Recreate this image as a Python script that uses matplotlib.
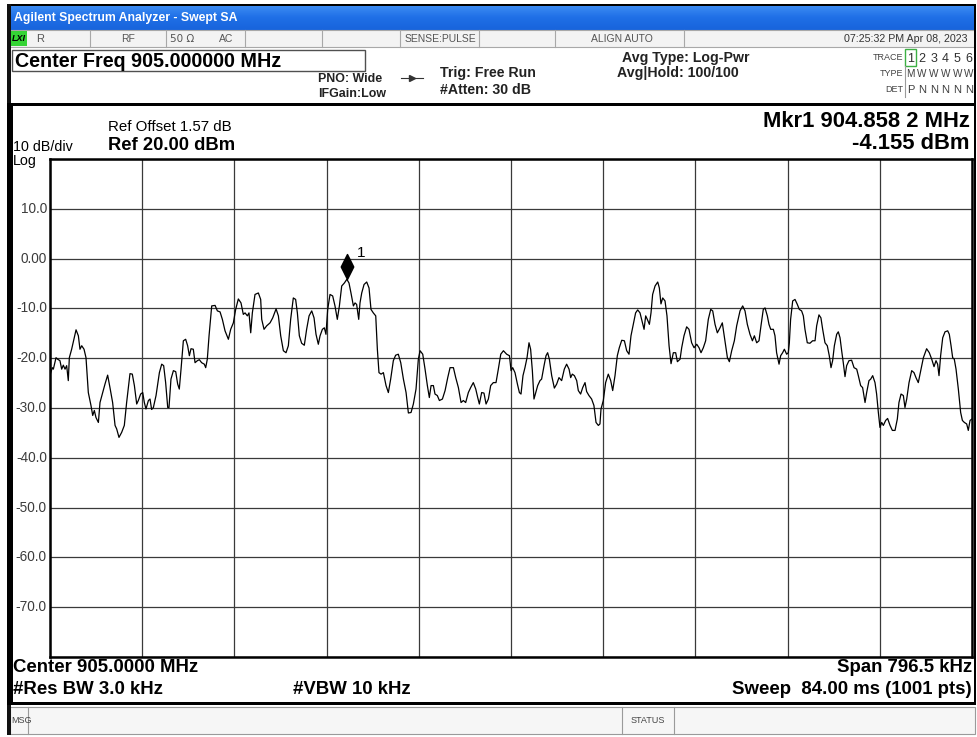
import numpy as np
import matplotlib
matplotlib.use("Agg")
import matplotlib.pyplot as plt
from matplotlib.patches import Rectangle
from matplotlib.path import Path
from matplotlib.markers import MarkerStyle
from matplotlib.colors import LinearSegmentedColormap
from matplotlib import font_manager

# ---------------- data ----------------
center_mhz = 905.0
span_khz = 796.5
ref_level_dbm = 20.0
db_per_div = 10.0
n_divs = 10
y_tick_values = [10, 0, -10, -20, -30, -40, -50, -60, -70]
y_tick_labels = ["10.0", "0.00", "-10.0", "-20.0", "-30.0", "-40.0", "-50.0", "-60.0", "-70.0"]

marker_mhz = 904.8582
marker_dbm = -4.155

# trace: frequency (kHz from start of span) and amplitude (dBm)
trace_khz = [
    0.0, 2.0, 2.9, 5.2, 6.6, 8.6, 10.1, 11.5, 13.0, 14.4,
    15.8, 16.7, 18.7, 22.5, 24.5, 25.9, 27.4, 29.4, 31.1, 33.1,
    35.4, 36.9, 38.3, 39.7, 41.8, 43.2, 45.2, 47.5, 49.8, 51.8,
    54.1, 56.2, 57.6, 59.6, 61.9, 64.2, 66.2, 69.1, 71.1, 72.9,
    74.9, 76.3, 78.3, 80.1, 81.5, 82.9, 85.0, 86.4, 87.8, 89.3,
    91.6, 94.5, 96.5, 98.2, 99.9, 101.7, 102.8, 104.5, 106.6, 108.6,
    110.3, 111.7, 113.2, 115.2, 117.2, 118.9, 120.4, 121.8, 123.8, 125.3,
    127.3, 129.0, 131.0, 133.3, 134.5, 135.9, 137.4, 139.7, 142.6, 144.6,
    146.9, 148.9, 151.2, 154.1, 156.1, 158.4, 160.4, 162.7, 165.0, 167.0,
    168.5, 170.5, 171.9, 173.4, 174.8, 177.1, 180.0, 182.0, 182.9, 184.9,
    187.2, 190.1, 192.4, 195.3, 197.3, 199.3,
    201.6, 203.9, 205.9, 207.9, 210.2, 212.2, 213.7, 215.4, 217.4, 219.7,
    221.7, 223.8, 226.1, 228.1, 229.8, 231.8, 233.3, 235.3, 237.0, 238.4,
    239.9, 241.9, 244.2, 246.2, 248.2, 250.0, 252.0, 254.3, 256.45, 258.3,
    260.0, 262.1, 263.5, 264.9, 266.7, 267.8, 269.3, 271.3, 273.6, 275.6,
    277.3, 279.3, 281.4, 282.8, 284.2, 286.0, 288.0, 290.3, 292.3, 294.3,
    296.6, 298.6, 300.9, 303.0, 305.3, 307.6, 309.6, 311.9, 313.9, 316.2,
    318.2, 319.7, 322.0, 324.0, 326.0, 327.7, 329.2, 331.2, 332.6, 334.6,
    336.4, 339.0, 341.3, 343.6, 345.6, 348.5, 350.5, 352.8, 355.1, 357.1,
    359.1, 361.4, 363.4, 365.7, 367.8, 369.5, 370.9, 372.9, 374.9, 376.7,
    378.7, 380.7, 383.0, 385.3, 387.3, 389.4, 391.7, 394.5, 396.9, 398.3,
    399.7, 401.7, 403.8, 405.5,
    406.9, 408.6, 410.3, 412.1, 413.8, 415.2, 416.7, 418.1, 419.6, 421.3,
    423.3, 424.7, 426.8, 428.5, 429.9, 431.4, 433.4, 435.7, 437.7, 439.7,
    442.0, 444.3, 446.3, 448.4, 449.8, 451.2, 453.0, 455.0, 456.4, 458.4,
    460.2, 462.2, 463.6, 465.6, 467.9, 469.9, 471.7, 473.7, 475.1, 476.0,
    478.0, 480.0, 482.3, 484.4, 486.1, 488.1, 490.1, 491.8, 493.9, 496.2,
    498.2, 500.2, 501.9, 503.9, 505.9, 507.7, 509.7, 511.1, 513.2, 514.6,
    516.0, 517.8, 519.2, 520.6, 522.7, 525.0, 526.4, 527.8, 529.3, 531.3,
    533.0, 534.8, 536.5, 538.5, 540.5, 542.0, 544.3, 545.7, 547.7, 550.0,
    552.0, 554.3, 556.4, 558.7, 560.7, 562.4, 564.4, 566.4, 568.7, 570.8,
    572.5, 574.5, 576.5, 578.8, 580.8, 583.1, 585.2, 586.9, 588.9, 591.2,
    593.2, 596.1, 598.4, 600.4, 602.4, 604.7, 606.8, 608.5,
    610.5, 612.5, 614.2, 616.2, 617.7, 619.7, 621.1, 622.6, 624.9, 626.3,
    627.7, 629.8, 631.2, 632.9, 634.4, 636.4, 637.8, 638.7, 639.8, 641.6,
    643.6, 645.6, 647.3, 649.3, 650.8, 652.2, 654.2, 656.5, 658.8, 660.9,
    662.3, 664.3, 666.0, 667.5, 669.5, 671.5, 673.2, 674.7, 676.1, 677.6,
    679.6, 681.0, 682.5, 683.9, 685.3, 686.8, 688.2, 690.2, 692.5, 694.6,
    696.9, 698.3, 700.3, 702.0, 704.1, 705.5, 707.5, 709.0, 710.7, 712.7,
    714.1, 715.6, 717.0, 718.5, 719.9, 721.9, 723.6, 725.7, 727.7, 730.0,
    732.0, 733.4, 735.2, 737.2, 738.6, 740.1, 742.1, 744.4, 746.4, 748.1,
    750.1, 752.2, 754.5, 757.3, 759.6, 761.7, 763.7, 765.4, 766.8, 768.0,
    769.4, 771.2, 773.2, 775.5, 776.9, 778.4, 779.8, 781.2, 782.7, 784.7,
    786.7, 788.2, 789.9, 791.9, 793.3, 794.8, 796.5,
]
trace_dbm = [
    -23.4, -21.9, -22.2, -19.9, -20.2, -20.5, -22.2, -21.4, -22.2, -21.5,
    -24.5, -19.9, -18.2, -14.3, -15.5, -18.2, -17.5, -18.2, -19.9, -26.9,
    -29.5, -31.5, -30.5, -31.9, -32.9, -28.9, -27.2, -25.2, -23.4, -25.9,
    -28.9, -33.5, -34.2, -35.9, -34.9, -33.5, -28.9, -23.1, -23.2, -25.5,
    -29.2, -28.5, -27.2, -26.9, -28.9, -30.2, -28.5, -28.2, -30.3, -29.9,
    -27.5, -22.9, -21.2, -21.5, -24.9, -29.9, -29.9, -24.2, -22.5, -22.7,
    -25.2, -26.2, -22.2, -16.5, -16.2, -17.5, -19.5, -18.1, -18.2, -20.9,
    -20.5, -20.3, -20.9, -21.2, -21.9, -20.2, -15.5, -9.5, -9.4, -10.5,
    -10.7, -12.2, -14.5, -16.2, -14.2, -12.9, -10.2, -8.1, -8.9, -11.2,
    -10.9, -11.5, -10.9, -14.9, -10.9, -7.2, -6.9, -8.2, -12.2, -14.2,
    -13.5, -12.9, -11.9, -10.1, -11.5, -15.5,
    -18.5, -18.9, -17.5, -12.2, -7.9, -8.2, -10.9, -15.5, -17.0, -17.4,
    -14.2, -11.5, -10.5, -11.9, -15.2, -17.2, -15.5, -14.2, -13.9, -15.2,
    -10.2, -7.2, -7.5, -9.5, -12.2, -9.5, -5.5, -4.9, -4.155, -4.9,
    -6.9, -9.5, -8.9, -9.2, -12.2, -8.9, -6.9, -5.2, -4.7, -5.9,
    -10.2, -10.9, -11.5, -18.2, -22.9, -23.2, -22.9, -25.5, -26.9, -24.2,
    -20.5, -19.4, -19.2, -20.9, -24.2, -26.9, -31.0, -30.9, -29.2, -26.2,
    -20.2, -18.5, -19.2, -22.2, -25.5, -27.9, -25.5, -25.5, -27.2, -27.5,
    -28.5, -28.2, -26.5, -23.9, -21.9, -21.9, -23.9, -25.9, -28.9, -28.5,
    -28.9, -26.9, -25.9, -24.9, -26.2, -27.9, -29.2, -26.9, -27.0, -29.2,
    -28.2, -25.5, -24.9, -24.9, -22.2, -19.2, -18.5, -19.2, -19.5, -22.5,
    -21.9, -22.9, -25.2, -26.9,
    -27.2, -23.5, -21.9, -19.9, -16.9, -18.2, -22.5, -28.2, -26.9, -25.5,
    -24.5, -24.2, -21.5, -19.5, -18.9, -20.2, -23.5, -26.0, -25.2, -23.9,
    -24.5, -22.2, -21.2, -22.2, -23.9, -23.2, -23.5, -24.5, -26.5, -27.2,
    -25.9, -24.9, -26.7, -27.5, -28.2, -29.5, -32.9, -33.5, -33.2, -30.2,
    -28.5, -24.9, -23.2, -24.5, -26.5, -23.5, -19.5, -17.9, -16.4, -16.5,
    -18.5, -19.2, -15.5, -13.2, -10.9, -10.3, -10.9, -12.2, -14.2, -11.5,
    -12.2, -13.2, -10.9, -7.2, -5.5, -4.7, -5.9, -9.1, -7.9, -8.5,
    -11.5, -17.5, -21.1, -18.9, -18.9, -20.7, -20.2, -17.9, -15.5, -13.7,
    -14.2, -16.9, -17.9, -17.2, -17.9, -18.9, -17.9, -16.5, -12.2, -10.2,
    -10.5, -13.2, -14.9, -13.9, -12.9, -16.5, -19.9, -20.7, -18.5, -16.5,
    -13.5, -10.5, -9.5, -10.5, -13.2, -15.2, -16.5, -15.5,
    -16.9, -16.5, -13.5, -10.2, -9.9, -11.5, -13.2, -14.2, -14.2, -15.5,
    -18.9, -21.2, -19.5, -18.9, -18.2, -19.2, -18.9, -16.9, -12.2, -8.5,
    -8.2, -9.2, -10.2, -10.5, -11.5, -14.2, -16.9, -17.0, -16.5, -16.5,
    -13.5, -11.3, -11.9, -14.2, -16.9, -17.5, -19.5, -21.9, -20.5, -17.5,
    -15.2, -14.7, -15.9, -18.5, -20.9, -23.7, -21.5, -20.5, -20.4, -21.9,
    -22.2, -23.5, -25.5, -25.9, -28.9, -26.9, -24.5, -24.2, -23.5, -24.9,
    -27.2, -30.9, -33.9, -32.9, -33.5, -32.5, -32.1, -33.5, -34.5, -34.5,
    -32.2, -28.9, -27.2, -27.5, -29.9, -28.2, -24.9, -22.5, -22.9, -23.9,
    -24.9, -22.5, -19.9, -18.1, -18.9, -20.2, -21.7, -20.5, -21.2, -23.5,
    -19.5, -15.9, -14.7, -14.5, -15.2, -17.5, -19.9, -20.2, -22.2, -26.2,
    -30.9, -32.5, -32.9, -33.2, -34.5, -32.5, -32.2,
]

# ---------------- fonts ----------------
avail = {f.name for f in font_manager.fontManager.ttflist}
SANS = "Liberation Sans" if "Liberation Sans" in avail else "DejaVu Sans"
plt.rcParams["font.family"] = [SANS, "DejaVu Sans"]

W, H = 977, 737
fig = plt.figure(figsize=(W / 100, H / 100), dpi=100)
fig.patch.set_facecolor("white")

# overlay for the instrument UI
ov = fig.add_axes([0, 0, 1, 1], zorder=0)
ov.set_xlim(0, W)
ov.set_ylim(H, 0)
ov.axis("off")


def rect(x0, y0, x1, y1, fc="none", ec="none", lw=0.0, z=1):
    ov.add_patch(Rectangle((x0, y0), x1 - x0, y1 - y0, facecolor=fc,
                           edgecolor=ec, linewidth=lw, zorder=z))


def txt(x, y, s, size, ha="left", weight="normal", color="black", family=None, style="normal", z=5):
    ov.text(x, y, s, fontsize=size, ha=ha, va="center", fontweight=weight,
            color=color, family=family or [SANS, "DejaVu Sans"], fontstyle=style, zorder=z)


# title bar with gradient
cmap = LinearSegmentedColormap.from_list("xp", ["#3d8df3", "#1f6fe6", "#1864dc"])
ov.imshow(np.linspace(0, 1, 50)[:, None], extent=(10, 975, 30, 5), aspect="auto",
          cmap=cmap, zorder=1)
txt(14, 17.5, "Agilent Spectrum Analyzer - Swept SA", 8.8, weight="bold", color="white")

# status row
rect(10, 30, 975, 47, fc="#f3f3f3", ec="#a8a8a8", lw=0.8)
for xs in [90, 166, 245, 322, 400, 479, 555, 684]:
    ov.plot([xs, xs], [30, 47], color="#a8a8a8", lw=0.8, zorder=2)
rect(11, 31, 27, 46, fc="#35d435", z=3)
txt(19, 38.5, "LXI", 6.5, ha="center", weight="bold", style="italic")
scol = "#555555"
txt(40, 38.5, "R", 8, ha="center", color=scol)
txt(128, 38.5, "RF", 7.5, ha="center", color=scol)
txt(182, 38.5, "50 Ω", 7.5, ha="center", color=scol, family=["DejaVu Sans"])
txt(226, 38.5, "AC", 7.5, ha="center", color=scol)
txt(440, 38.5, "SENSE:PULSE", 7.5, ha="center", color=scol)
txt(622, 38.5, "ALIGN AUTO", 7.5, ha="center", color=scol)
txt(967, 38.5, "07:25:32 PM Apr 08, 2023", 7.7, ha="right", color="#333333")

# header area
rect(12, 50, 365, 71, fc="white", ec="#505050", lw=1.0, z=2)
txt(15, 61, "Center Freq 905.000000 MHz", 14.2, weight="bold")
txt(318, 79, "PNO: Wide", 8.9, weight="bold", color="#222222")
txt(318, 94, "IFGain:Low", 8.9, weight="bold", color="#222222")
ov.plot([401, 423], [78, 78], color="#333333", lw=0.8, zorder=3)
ov.plot([412], [78], marker=">", ms=4, color="#333333", zorder=3)
txt(440, 73, "Trig: Free Run", 10.2, weight="bold", color="#222222")
txt(440, 90, "#Atten: 30 dB", 10.2, weight="bold", color="#222222")
txt(622, 58, "Avg Type: Log-Pwr", 10.2, weight="bold", color="#222222")
txt(617, 73, "Avg|Hold: 100/100", 10.2, weight="bold", color="#222222")
txt(903, 57, "TRACE", 6.5, ha="right", color="#444444")
txt(903, 73, "TYPE", 6.5, ha="right", color="#444444")
txt(903, 89, "DET", 6.5, ha="right", color="#444444")
rect(905, 49, 916, 66, ec="#3cb043", lw=1.0, z=3)
ov.plot([905, 905], [66, 97], color="#9a9a9a", lw=0.8, zorder=3)
trace_nums = ["1", "2", "3", "4", "5", "6"]
type_chars = ["M", "W", "W", "W", "W", "W"]
det_chars = ["P", "N", "N", "N", "N", "N"]
for i in range(6):
    xc = 910.5 + i * 11.7
    txt(xc, 58.5, trace_nums[i], 9, ha="center", color="#303030")
    txt(xc, 74, type_chars[i], 7.2, ha="center", color="#404040")
    txt(xc, 90, det_chars[i], 8, ha="center", color="#404040")

# frame lines of the main panel
rect(7, 4, 976, 5.5, fc="black", z=3)
rect(7, 4, 10.5, 735, fc="#111111", z=3)
rect(7, 103, 13, 704, fc="black", z=3)
rect(7, 102.5, 976, 105.5, fc="black", z=3)
rect(973.5, 4, 976, 705, fc="black", z=3)
rect(7, 702, 976, 704.5, fc="black", z=3)

# main panel texts
txt(108, 127, "Ref Offset 1.57 dB", 10.8)
txt(108, 145, "Ref 20.00 dBm", 13.2, weight="bold")
txt(13, 146.5, "10 dB/div", 10.3)
txt(13, 160.5, "Log", 10.3)
txt(970, 121.5, "Mkr1 904.858 2 MHz", 15.8, ha="right", weight="bold")
txt(970, 143, "-4.155 dBm", 15.8, ha="right", weight="bold")

bsz = 13.4
txt(13, 667, "Center 905.0000 MHz", bsz, weight="bold")
txt(972, 667, "Span 796.5 kHz", bsz, ha="right", weight="bold")
txt(13, 690, "#Res BW 3.0 kHz", bsz, weight="bold")
txt(352, 690, "#VBW 10 kHz", bsz, ha="center", weight="bold")
txt(972, 690, "Sweep  84.00 ms (1001 pts)", bsz, ha="right", weight="bold")

# message row
rect(10, 707, 975, 734, fc="#f6f6f6", ec="#9a9a9a", lw=0.8)
for xs in [28, 622, 674]:
    ov.plot([xs, xs], [707, 734], color="#9a9a9a", lw=0.8, zorder=2)
txt(11, 720.5, "MSG", 6.5, color="#444444")
txt(648, 720.5, "STATUS", 6.5, ha="center", color="#444444")

# ---------------- spectrum plot ----------------
x0, x1, y_top, y_bot = 50, 972, 159, 657
ax = fig.add_axes([x0 / W, 1 - y_bot / H, (x1 - x0) / W, (y_bot - y_top) / H], zorder=2)
start_mhz = center_mhz - span_khz / 2000.0
stop_mhz = center_mhz + span_khz / 2000.0
freq_mhz = start_mhz + np.asarray(trace_khz) / 1000.0
amp = np.asarray(trace_dbm)

ax.set_xlim(start_mhz, stop_mhz)
ax.set_ylim(ref_level_dbm - n_divs * db_per_div, ref_level_dbm)
ax.set_xticks(np.linspace(start_mhz, stop_mhz, n_divs + 1))
ax.set_yticks(np.arange(ref_level_dbm - n_divs * db_per_div, ref_level_dbm + 1, db_per_div))
ax.grid(True, color="#3a3a3a", lw=0.9)
ax.tick_params(length=0, labelbottom=False, labelleft=False)
for s in ax.spines.values():
    s.set_linewidth(1.8)
    s.set_color("black")

# y labels drawn as text at tick values
for v, lab in zip(y_tick_values, y_tick_labels):
    ax.text(-0.0035, v, lab, transform=ax.get_yaxis_transform(), ha="right", va="center",
            fontsize=9.8, color="#3c3c3c")

ax.plot(freq_mhz, amp, color="black", lw=0.9, zorder=3)

diamond = Path([(0, 0), (0.5, 1), (0, 2), (-0.5, 1), (0, 0)],
               [Path.MOVETO, Path.LINETO, Path.LINETO, Path.LINETO, Path.CLOSEPOLY])
ax.plot([marker_mhz], [marker_dbm], linestyle="none", marker=MarkerStyle(diamond),
        ms=36, color="black", zorder=4, clip_on=False)
ax.annotate("1", (marker_mhz, marker_dbm), xytext=(10.5, 19), textcoords="offset points",
            ha="center", va="center", fontsize=11, color="black")

fig.savefig("out.png", dpi=100, facecolor="white")
